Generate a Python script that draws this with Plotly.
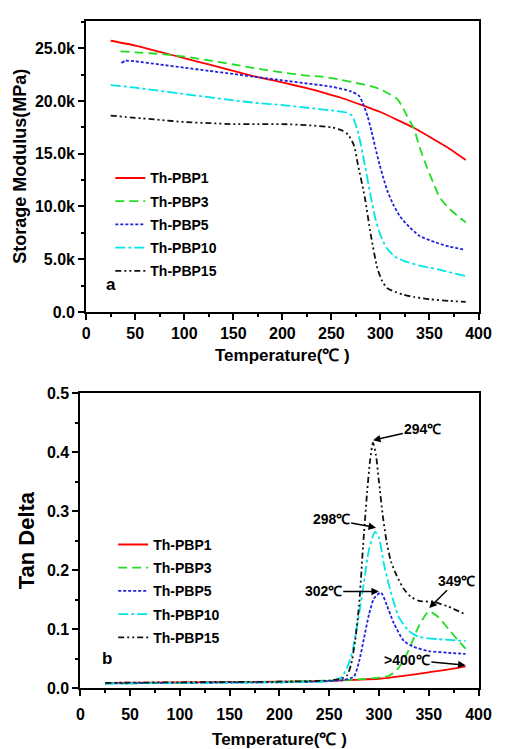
import plotly.graph_objects as go

# ---------------- Storage modulus data (MPa) ----------------
t_pbp1 = [25, 50, 75, 100, 125, 150, 175, 200, 225, 241, 260, 284, 300, 315, 333, 350, 370, 387]
e_pbp1 = [25700, 25250, 24650, 24050, 23450, 22850, 22250, 21750, 21200, 20800, 20300, 19500, 18950, 18300, 17500, 16600, 15500, 14400]

t_pbp3 = [35, 50, 75, 100, 125, 150, 175, 200, 225, 240, 260, 275, 290, 300, 310, 317, 322, 327, 334, 340, 345, 350, 355, 360, 370, 380, 387]
e_pbp3 = [24700, 24600, 24450, 24200, 23850, 23450, 23050, 22700, 22400, 22300, 22000, 21700, 21400, 21100, 20600, 20200, 19500, 18600, 17400, 15600, 14300, 13100, 12000, 10900, 9800, 9000, 8500]

t_pbp5 = [36, 40, 50, 75, 100, 125, 150, 175, 200, 225, 250, 270, 278, 282, 287, 291, 295, 299, 303, 307, 313, 320, 330, 340, 356, 370, 386]
e_pbp5 = [23600, 23800, 23750, 23450, 23150, 22850, 22550, 22250, 21950, 21650, 21350, 20900, 20500, 19800, 18500, 17100, 15500, 14000, 12700, 11500, 10200, 9050, 8000, 7200, 6600, 6200, 5900]

t_pbp10 = [25, 50, 75, 100, 125, 150, 175, 200, 225, 250, 265, 271, 277, 284, 290, 295, 300, 306, 314, 325, 340, 360, 387]
e_pbp10 = [21500, 21250, 20950, 20650, 20350, 20050, 19800, 19600, 19350, 19100, 18900, 18600, 17100, 14000, 11000, 8800, 7300, 6100, 5300, 4800, 4400, 4000, 3400]

t_pbp15 = [25, 50, 75, 100, 125, 150, 175, 200, 225, 250, 261, 267, 273, 277, 284, 290, 297, 302, 307, 315, 323, 335, 350, 370, 387]
e_pbp15 = [18600, 18400, 18200, 18000, 17900, 17800, 17800, 17800, 17700, 17500, 17200, 16800, 15800, 14000, 10900, 7400, 4100, 2900, 2250, 1900, 1650, 1400, 1200, 1050, 950]

# ---------------- Tan delta data ----------------
td_t1 = [25, 100, 200, 250, 275, 300, 325, 350, 375, 387]
td_v1 = [0.009, 0.010, 0.011, 0.012, 0.014, 0.016, 0.021, 0.027, 0.033, 0.037]

td_t3 = [25, 100, 200, 250, 280, 300, 310, 320, 330, 340, 350, 360, 370, 380, 387]
td_v3 = [0.008, 0.009, 0.011, 0.013, 0.015, 0.018, 0.021, 0.035, 0.065, 0.105, 0.130, 0.120, 0.100, 0.080, 0.067]

td_t5 = [25, 100, 200, 250, 265, 275, 280, 285, 290, 295, 302, 308, 315, 325, 335, 350, 370, 387]
td_v5 = [0.008, 0.009, 0.010, 0.012, 0.014, 0.020, 0.045, 0.085, 0.125, 0.152, 0.162, 0.140, 0.110, 0.080, 0.070, 0.063, 0.060, 0.058]

td_t10 = [25, 100, 200, 250, 262, 268, 273, 279, 285, 290, 296, 300, 305, 310, 315, 320, 330, 340, 360, 387]
td_v10 = [0.008, 0.009, 0.010, 0.012, 0.018, 0.035, 0.060, 0.115, 0.180, 0.235, 0.265, 0.255, 0.210, 0.175, 0.145, 0.120, 0.097, 0.087, 0.083, 0.080]

td_t15 = [25, 100, 200, 250, 262, 268, 272, 276, 280, 284, 288, 291, 294, 297, 300, 304, 308, 312, 318, 325, 332, 340, 355, 370, 387]
td_v15 = [0.009, 0.010, 0.011, 0.013, 0.016, 0.022, 0.040, 0.080, 0.140, 0.240, 0.330, 0.385, 0.416, 0.395, 0.350, 0.290, 0.245, 0.215, 0.190, 0.168, 0.155, 0.148, 0.146, 0.138, 0.125]

names = ["Th-PBP1", "Th-PBP3", "Th-PBP5", "Th-PBP10", "Th-PBP15"]
colors = ["#ff0000", "#22dd22", "#2222dd", "#00e5e5", "#111111"]
dashes = ["solid", "9px,5px", "3px,2px", "10px,3px,3px,3px", "6px,3px,2px,3px,2px,3px"]

y1_tickvals = [0, 5000, 10000, 15000, 20000, 25000]
y1_ticktext = ["0.0", "5.0k", "10.0k", "15.0k", "20.0k", "25.0k"]

FONT = "Arial, Liberation Sans, sans-serif"
W, H = 506, 749

def px_x(p):
    return p / W

def px_y(p):
    return 1 - p / H

fig = go.Figure()

mod_sets = [(t_pbp1, e_pbp1), (t_pbp3, e_pbp3), (t_pbp5, e_pbp5), (t_pbp10, e_pbp10), (t_pbp15, e_pbp15)]
for i, (tx, ey) in enumerate(mod_sets):
    fig.add_trace(go.Scatter(
        x=tx, y=ey, mode="lines", name=names[i],
        line=dict(color=colors[i], width=1.8, dash=dashes[i], shape="spline", smoothing=0.6),
        xaxis="x", yaxis="y", legend="legend", legendgroup="a" + str(i),
    ))

td_sets = [(td_t1, td_v1), (td_t3, td_v3), (td_t5, td_v5), (td_t10, td_v10), (td_t15, td_v15)]
for i, (tx, vy) in enumerate(td_sets):
    fig.add_trace(go.Scatter(
        x=tx, y=vy, mode="lines", name=names[i],
        line=dict(color=colors[i], width=1.8, dash=dashes[i], shape="spline", smoothing=0.6),
        xaxis="x2", yaxis="y2", legend="legend2", legendgroup="b" + str(i),
    ))

axis_common = dict(
    showline=True, linecolor="black", linewidth=2, mirror=True,
    ticks="outside", ticklen=6, tickwidth=1.5, tickcolor="black",
    showgrid=False, zeroline=False,
    tickfont=dict(family=FONT, size=16, color="black", weight="bold"),
)

fig.update_layout(
    width=W, height=H,
    margin=dict(l=0, r=0, t=0, b=0),
    paper_bgcolor="white", plot_bgcolor="white",
    font=dict(family=FONT, color="black"),
    xaxis=dict(
        domain=[px_x(85), px_x(491)], range=[0, 400], dtick=50, anchor="y",
        minor=dict(dtick=25, ticks="outside", ticklen=3, tickwidth=1.5, tickcolor="black"),
        title=dict(text="Temperature(℃ )", font=dict(family=FONT, size=17, weight="bold"), standoff=8),
        **axis_common,
    ),
    yaxis=dict(
        domain=[px_y(311), px_y(13)], range=[0, 27600], anchor="x",
        tickvals=y1_tickvals, ticktext=y1_ticktext,
        minor=dict(dtick=2500, ticks="outside", ticklen=3, tickwidth=1.5, tickcolor="black"),
        title=dict(text="Storage Modulus(MPa)", font=dict(family=FONT, size=18, weight="bold"), standoff=4),
        **axis_common,
    ),
    xaxis2=dict(
        domain=[px_x(79), px_x(491)], range=[0, 400], dtick=50, anchor="y2",
        minor=dict(dtick=25, ticks="outside", ticklen=3, tickwidth=1.5, tickcolor="black"),
        ticklabelstandoff=5,
        title=dict(text="Temperature(℃ )", font=dict(family=FONT, size=17, weight="bold"), standoff=12),
        **axis_common,
    ),
    yaxis2=dict(
        domain=[px_y(696), px_y(394)], range=[0, 0.5], dtick=0.1, tickformat=".1f", anchor="x2",
        minor=dict(dtick=0.05, ticks="outside", ticklen=3, tickwidth=1.5, tickcolor="black"),
        title=dict(text="Tan Delta", font=dict(family=FONT, size=22, weight="bold"), standoff=6),
        **axis_common,
    ),
    legend=dict(
        x=px_x(110), y=px_y(158), xanchor="left", yanchor="top",
        bgcolor="rgba(0,0,0,0)", tracegroupgap=2,
        font=dict(family=FONT, size=14, color="black", weight="bold"),
    ),
    legend2=dict(
        x=px_x(113), y=px_y(533), xanchor="left", yanchor="top",
        bgcolor="rgba(0,0,0,0)", tracegroupgap=2,
        font=dict(family=FONT, size=14, color="black", weight="bold"),
    ),
    showlegend=True,
)

ann_font = dict(family=FONT, size=14, color="black", weight="bold")
fig.add_annotation(x=25, y=2600, xref="x", yref="y", text="a", showarrow=False,
                   xanchor="center", yanchor="middle", font=dict(family=FONT, size=17, color="black", weight="bold"))
fig.add_annotation(x=27, y=0.05, xref="x2", yref="y2", text="b", showarrow=False,
                   xanchor="center", yanchor="middle", font=dict(family=FONT, size=17, color="black", weight="bold"))

peaks = [
    ("294℃", 294, 0.420, 344, 0.439),
    ("298℃", 297, 0.272, 252, 0.286),
    ("302℃", 300, 0.164, 244, 0.164),
    ("349℃", 350.5, 0.136, 378, 0.182),
    (">400℃", 387, 0.039, 328, 0.048),
]
for txt, hx, hy, tx, ty in peaks:
    fig.add_annotation(
        x=hx, y=hy, xref="x2", yref="y2", ax=tx, ay=ty, axref="x2", ayref="y2",
        text=txt, showarrow=True, arrowhead=2, arrowsize=1, arrowwidth=1.5,
        arrowcolor="black", font=ann_font,
    )

fig.write_html("out.html")
